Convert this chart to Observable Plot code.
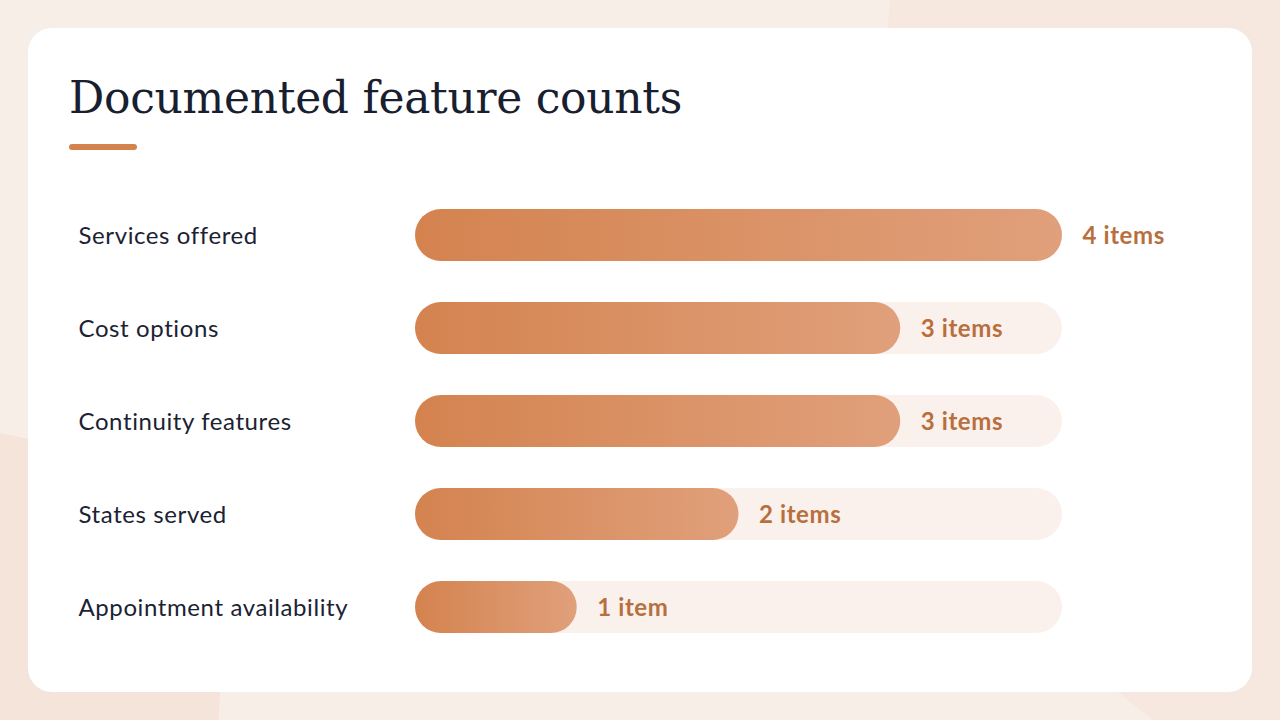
<!DOCTYPE html>
<html>
<head>
<meta charset="utf-8">
<script src="https://cdn.jsdelivr.net/npm/d3@7"></script>
<script src="https://cdn.jsdelivr.net/npm/@observablehq/plot@0.6"></script>
<style>
  html, body { margin: 0; padding: 0; }
  body { width: 1280px; height: 720px; overflow: hidden; background: #f8eee8; position: relative; font-family: Lato, "Open Sans", sans-serif; }
  .blob { position: absolute; border-radius: 50%; }
  .card { position: absolute; left: 28px; top: 28px; width: 1224px; height: 664px; background: #fff; border-radius: 24px; }
  h1 { position: absolute; left: 69px; top: 72px; margin: 0; font-family: "DejaVu Serif", "Liberation Serif", serif; font-weight: 400; font-size: 44px; line-height: 52px; color: #18202f; letter-spacing: -0.3px; }
  .rule { position: absolute; left: 69px; top: 144px; width: 68px; height: 6px; border-radius: 3px; background: #d4834f; }
  #chart { position: absolute; left: 0; top: 189px; }
</style>
</head>
<body>
<div class="blob" style="left:-300px; top:430px; width:520px; height:520px; background:#f4e4d9;"></div>
<div class="blob" style="left:885px; top:-600px; width:1000px; height:1400px; background:#f6e8df;"></div>
<div class="card"></div>
<h1>Documented feature counts</h1>
<div class="rule"></div>
<div id="chart"></div>
<script>
const categories = ["Services offered", "Cost options", "Continuity features", "States served", "Appointment availability"];
const counts = [4, 3, 3, 2, 1];
const valueLabels = ["4 items", "3 items", "3 items", "2 items", "1 item"];
const maxCount = 4;

const data = categories.map((c, i) => ({category: c, count: counts[i], label: valueLabels[i], max: maxCount}));

const chart = Plot.plot({
  width: 1280,
  height: 465,
  marginLeft: 415,
  marginRight: 218,
  marginTop: 0,
  marginBottom: 0,
  style: {background: "transparent", overflow: "visible"},
  x: {domain: [0, maxCount], axis: null},
  y: {domain: categories, paddingInner: 0.44, paddingOuter: 0.22, axis: null},
  marks: [
    Plot.barX(data, {y: "category", x1: 0, x2: "max", fill: "#fbf1ec", rx: 26}),
    Plot.barX(data, {y: "category", x1: 0, x2: "count", fill: "url(#barGrad)", rx: 26}),
    Plot.text(data, {y: "category", x: "count", text: "label", dx: 20, textAnchor: "start", fill: "#b86f3e", fontSize: 24, fontWeight: 700, fontFamily: "Lato, sans-serif", dy: 1}),
    Plot.text(data, {y: "category", x: 0, text: "category", dx: -337, textAnchor: "start", fill: "#1b2232", fontSize: 24, fontFamily: "Lato, sans-serif", dy: 1})
  ]
});

chart.querySelectorAll("text").forEach(t => t.setAttribute("letter-spacing", "0.6"));

const ns = "http://www.w3.org/2000/svg";
const defs = document.createElementNS(ns, "defs");
const grad = document.createElementNS(ns, "linearGradient");
grad.setAttribute("id", "barGrad");
grad.setAttribute("x1", "0"); grad.setAttribute("x2", "1"); grad.setAttribute("y1", "0"); grad.setAttribute("y2", "0");
[["0%", "#d4834f"], ["100%", "#e0a07b"]].forEach(([o, c]) => {
  const s = document.createElementNS(ns, "stop");
  s.setAttribute("offset", o); s.setAttribute("stop-color", c);
  grad.appendChild(s);
});
defs.appendChild(grad);
chart.insertBefore(defs, chart.firstChild);
document.getElementById("chart").appendChild(chart);
</script>
</body>
</html>
